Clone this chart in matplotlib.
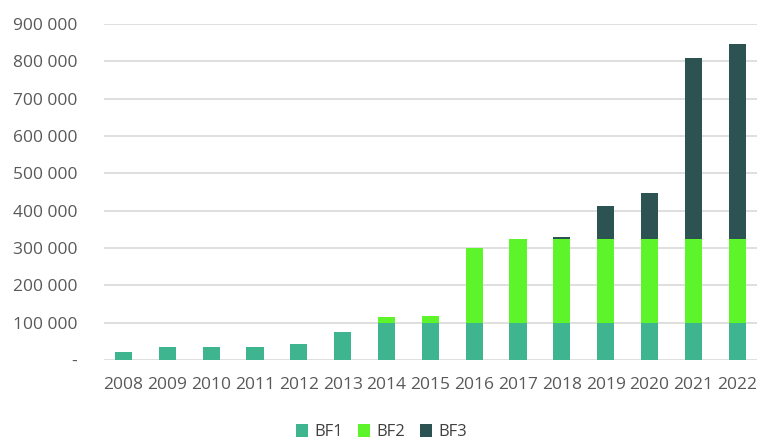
import matplotlib.pyplot as plt
import numpy as np

plt.rcParams['font.family'] = ['Open Sans', 'DejaVu Sans']

years = ['2008', '2009', '2010', '2011', '2012', '2013', '2014', '2015',
         '2016', '2017', '2018', '2019', '2020', '2021', '2022']
bf1 = np.array([22000, 36000, 36000, 35000, 43000, 74000, 98000, 98000,
                98000, 98000, 98000, 98000, 98000, 98000, 98000])
bf2 = np.array([0, 0, 0, 0, 0, 0, 18000, 19000,
                201000, 227000, 227000, 227000, 227000, 227000, 227000])
bf3 = np.array([0, 0, 0, 0, 0, 0, 0, 0,
                0, 0, 5000, 88000, 121000, 483000, 521000])

colors = ['#3fb58f', '#5df42b', '#2d5252']

fig = plt.figure(figsize=(7.57, 4.43), dpi=100)
ax = fig.add_axes([0.137, 0.1874, 0.863, 0.7584])

x = np.arange(len(years))
w = 0.39
ax.bar(x, bf1, w, color=colors[0], label='BF1', zorder=3)
ax.bar(x, bf2, w, bottom=bf1, color=colors[1], label='BF2', zorder=3)
ax.bar(x, bf3, w, bottom=bf1 + bf2, color=colors[2], label='BF3', zorder=3)

ax.set_xlim(-0.45, 14.45)
ax.set_ylim(0, 900000)
yt = np.arange(0, 900001, 100000)
ax.set_yticks(yt)
ax.set_yticklabels(['-'] + [f'{v:,}'.replace(',', ' ') for v in yt[1:]])
ax.set_xticks(x)
ax.set_xticklabels(years)
ax.tick_params(axis='both', length=0, labelsize=12.5, labelcolor='#595959')
ax.tick_params(axis='y', pad=19)
ax.tick_params(axis='x', pad=12)
ax.yaxis.grid(True, color='#d9d9d9', linewidth=1.2, zorder=0)
for s in ax.spines.values():
    s.set_visible(False)

ax.legend(loc='center', bbox_to_anchor=(0.425, -0.215), ncol=3,
          frameon=False, fontsize=12, handlelength=0.75, handleheight=0.75,
          handletextpad=0.35, columnspacing=0.9, labelcolor='#404040',
          borderpad=0)

plt.savefig('out.png')
